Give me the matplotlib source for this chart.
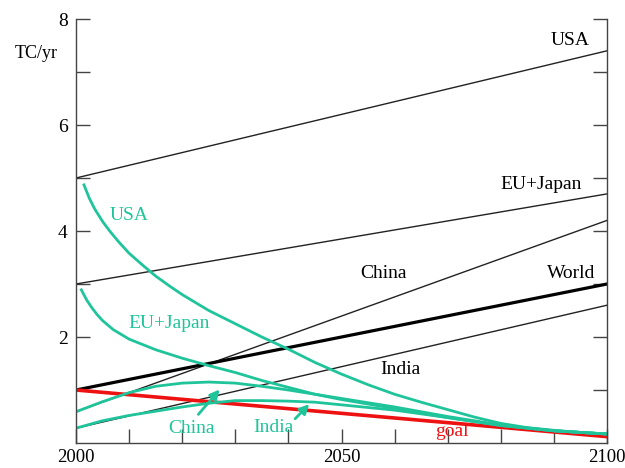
import matplotlib
matplotlib.use("Agg")
import matplotlib.pyplot as plt

# ---- data ----
line_years = [2000, 2100]
usa_bau = [5.0, 7.4]
eu_bau = [3.0, 4.7]
china_bau = [0.59, 4.2]
india_bau = [0.28, 2.6]
world_bau = [1.0, 3.0]
goal = [1.0, 0.12]

usa_years = [2001.5, 2002.5, 2003.5, 2005, 2006.5, 2008, 2010, 2012.5, 2015, 2017.5, 2020,
             2025, 2030, 2035, 2040, 2045, 2050, 2055, 2060, 2065, 2070, 2075, 2080,
             2085, 2090, 2095, 2100]
usa_cut = [4.87, 4.62, 4.42, 4.18, 3.98, 3.8, 3.58, 3.36, 3.15, 2.97, 2.8,
           2.5, 2.25, 2.0, 1.77, 1.52, 1.3, 1.1, 0.92, 0.77, 0.63, 0.49, 0.37,
           0.29, 0.24, 0.2, 0.17]

eu_years = [2001, 2002, 2003, 2004, 2005, 2007, 2010, 2015, 2020, 2025, 2030, 2035,
            2040, 2045, 2050, 2060, 2070, 2080, 2090, 2100]
eu_cut = [2.89, 2.7, 2.55, 2.42, 2.31, 2.14, 1.96, 1.76, 1.6, 1.46, 1.33, 1.18,
          1.05, 0.92, 0.82, 0.65, 0.48, 0.33, 0.23, 0.17]

cn_years = [2000, 2005, 2010, 2015, 2020, 2025, 2030, 2035, 2040, 2045, 2050, 2060,
            2070, 2080, 2090, 2100]
china_cut = [0.59, 0.78, 0.95, 1.07, 1.13, 1.15, 1.13, 1.07, 1.0, 0.92, 0.84, 0.68,
             0.5, 0.34, 0.23, 0.17]

in_years = [2000, 2005, 2010, 2015, 2020, 2025, 2030, 2035, 2040, 2045, 2050, 2060,
            2070, 2080, 2090, 2100]
india_cut = [0.28, 0.42, 0.52, 0.6, 0.68, 0.75, 0.8, 0.8, 0.79, 0.77, 0.72, 0.62,
             0.48, 0.33, 0.23, 0.17]

GREEN = "#20C49B"
RED = "#EE1111"

plt.rcParams["font.family"] = ["Liberation Serif", "DejaVu Serif"]

fig = plt.figure(figsize=(6.25, 4.68), dpi=100)
ax = fig.add_axes([0.1216, 0.0534, 0.8496, 0.906])

# black business-as-usual lines
for vals in (usa_bau, eu_bau, china_bau, india_bau):
    ax.plot(line_years, vals, color="#222222", lw=1.0)
ax.plot(line_years, world_bau, color="black", lw=2.3)

# goal
ax.plot(line_years, goal, color=RED, lw=2.6)

# green reduction curves
ax.plot(usa_years, usa_cut, color=GREEN, lw=2.0)
ax.plot(eu_years, eu_cut, color=GREEN, lw=2.0)
ax.plot(cn_years, china_cut, color=GREEN, lw=2.0)
ax.plot(in_years, india_cut, color=GREEN, lw=2.0)

# labels black
fs = 14
ax.text(2093, 7.6, "USA", fontsize=fs, ha="center", va="center")
ax.text(2087.5, 4.87, "EU+Japan", fontsize=fs, ha="center", va="center")
ax.text(2058, 3.2, "China", fontsize=fs, ha="center", va="center")
ax.text(2093.3, 3.2, "World", fontsize=fs, ha="center", va="center")
ax.text(2061, 1.38, "India", fontsize=fs, ha="center", va="center")

# labels green
ax.text(2010, 4.3, "USA", fontsize=fs, ha="center", va="center", color=GREEN)
ax.text(2017.5, 2.26, "EU+Japan", fontsize=fs, ha="center", va="center", color=GREEN)
ax.text(2021.8, 0.28, "China", fontsize=fs, ha="center", va="center", color=GREEN)
ax.text(2037.2, 0.3, "India", fontsize=fs, ha="center", va="center", color=GREEN)
ax.text(2070.7, 0.22, "goal", fontsize=fs, ha="center", va="center", color=RED)

# arrows
ax.annotate("", xy=(2027.4, 1.05), xytext=(2022.7, 0.5),
            arrowprops=dict(arrowstyle="-|>", color=GREEN, lw=2.0, mutation_scale=14))
ax.annotate("", xy=(2044.3, 0.77), xytext=(2040.9, 0.42),
            arrowprops=dict(arrowstyle="-|>", color=GREEN, lw=2.0, mutation_scale=14))

# axes
ax.set_xlim(2000, 2100)
ax.set_ylim(0, 8)
ax.spines["top"].set_visible(False)
for s in ("left", "right", "bottom"):
    ax.spines[s].set_color("#444444")
    ax.spines[s].set_linewidth(1.0)

ax.set_xticks([2000, 2050, 2100])
ax.set_xticks(list(range(2010, 2100, 10)), minor=True)
ax.set_yticks([2, 4, 6, 8])
ax.set_yticks([1, 3, 5, 7], minor=True)
ax.tick_params(axis="both", which="both", direction="in", length=10, width=1.0,
               color="#444444", labelsize=14)
ax.tick_params(axis="x", which="major", labelsize=13.5, pad=4)
ax.tick_params(axis="y", which="both", right=True)
ax.tick_params(axis="y", which="major", pad=6)

fig.text(36 / 625, 1 - 53 / 468, "TC/yr", fontsize=13, ha="center", va="center")

fig.savefig("out.png", dpi=100)
